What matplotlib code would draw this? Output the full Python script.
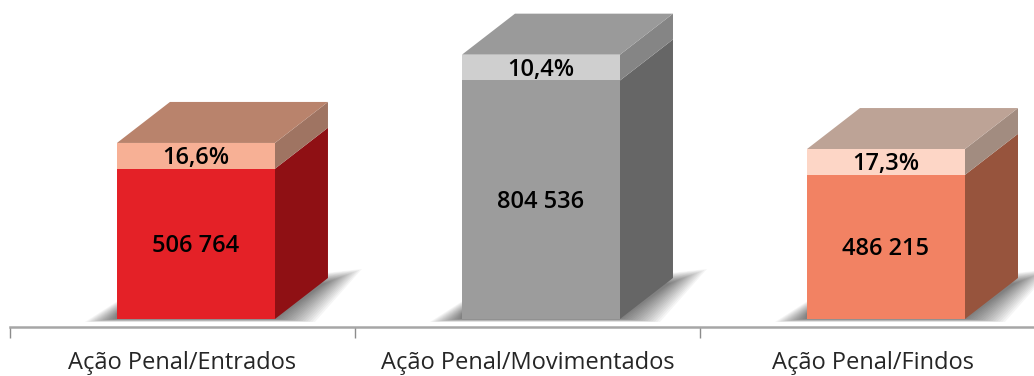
import matplotlib
matplotlib.use('Agg')
import matplotlib.pyplot as plt
from matplotlib.patches import Polygon

# Chart values
categories = ['Ação Penal/Entrados', 'Ação Penal/Movimentados', 'Ação Penal/Findos']
totals = [506764, 804536, 486215]
top_parts = [87000, 87000, 87000]
total_labels = ['506 764', '804 536', '486 215']
pct_labels = ['16,6%', '10,4%', '17,3%']

front_colors = ['#e42127', '#9c9c9c', '#f28263']
side_colors = ['#8f1014', '#666666', '#97543d']
pale_colors = ['#f7b095', '#cfcfcf', '#fdd6c6']
roof_colors = ['#b9836c', '#9a9a9a', '#bda396']
upper_side_colors = ['#9f7462', '#858585', '#a28c80']

plt.rcParams['font.family'] = ['Open Sans', 'DejaVu Sans']

fig = plt.figure(figsize=(10.34, 3.76), dpi=100)
ax = fig.add_axes([10 / 1034, 1 - 327 / 376, 1024 / 1034, 327 / 376])
x0, x1 = -0.5, 2.468
y0, y1 = -27000, 1075900

px = 1 / 345         # one pixel in x data units
py = 1 / 2.965e-4    # one pixel in y data units
bar_w = 0.458
offset = 0.039
dx = 53 * px
dy = 41 * py

for i in range(3):
    left = i + offset - bar_w / 2
    right = left + bar_w
    total = totals[i]
    top = total + top_parts[i]

    # soft shadow on the floor, stacked layers from wide to tight
    outer = [(left - 32 * px, -3 * py), (left + 10 * px, 24 * py),
             (right + dx + 34 * px, 50 * py), (right + 40 * px, -3 * py)]
    inner = [(left - 2 * px, 0), (left, 6 * py),
             (right + dx - 2 * px, 36 * py), (right + 2 * px, 0)]
    n = 16
    for g in range(n):
        t = g / (n - 1)
        pts = [(a[0] + (b[0] - a[0]) * t, a[1] + (b[1] - a[1]) * t) for a, b in zip(outer, inner)]
        ax.add_patch(Polygon(pts, closed=True, fc='black', ec='none', alpha=0.04, zorder=1))

    ax.add_patch(Polygon([(right, 0), (right + dx, dy), (right + dx, total + dy), (right, total)],
                         closed=True, fc=side_colors[i], ec='none', zorder=2))
    ax.add_patch(Polygon([(right, total), (right + dx, total + dy), (right + dx, top + dy), (right, top)],
                         closed=True, fc=upper_side_colors[i], ec='none', zorder=2))
    ax.add_patch(Polygon([(left, top), (right, top), (right + dx, top + dy), (left + dx, top + dy)],
                         closed=True, fc=roof_colors[i], ec='none', zorder=2))
    ax.bar(i + offset, total, width=bar_w, color=front_colors[i], zorder=3)
    ax.bar(i + offset, top_parts[i], bottom=total, width=bar_w, color=pale_colors[i], zorder=3)

    ax.text(i + offset, total / 2 - 2 * py, total_labels[i], ha='center', va='center',
            fontsize=17, fontweight='semibold', color='black', zorder=4)
    ax.text(i + offset, total + top_parts[i] / 2 - 2 * py, pct_labels[i], ha='center', va='center',
            fontsize=17, fontweight='semibold', color='black', zorder=4)

for s in ['top', 'left', 'right']:
    ax.spines[s].set_visible(False)
ax.spines['bottom'].set_color('#a6a6a6')
ax.spines['bottom'].set_linewidth(1.8)
ax.set_yticks([])
ax.set_xticks([0, 1, 2])
ax.set_xticklabels(categories, fontsize=17, color='#262626')
ax.set_xticks([-0.5, 0.5, 1.5], minor=True)
ax.tick_params(axis='x', which='major', length=0, pad=17.5)
ax.tick_params(axis='x', which='minor', length=8, width=1, color='#8c8c8c')
ax.set_xlim(x0, x1)
ax.set_ylim(y0, y1)

fig.savefig('out.png', dpi=100)
